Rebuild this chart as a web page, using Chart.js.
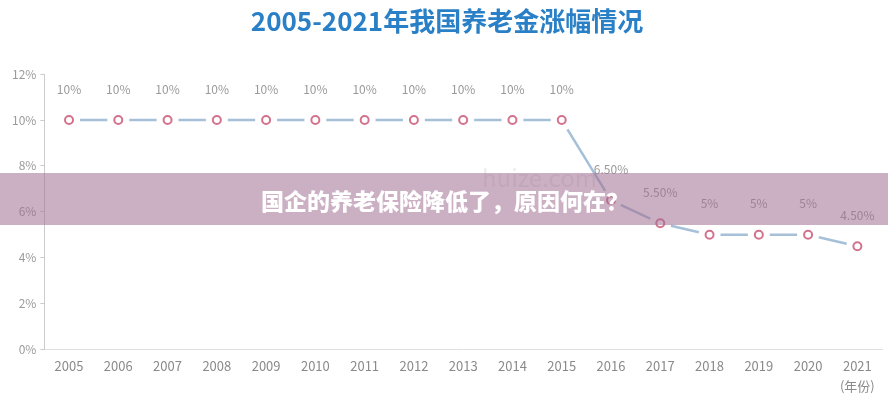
<!DOCTYPE html>
<html><head><meta charset="utf-8">
<script src="https://cdn.jsdelivr.net/npm/chart.js@4/dist/chart.umd.min.js"></script>
<style>html,body{margin:0;padding:0;background:#fff;}#wrap{width:888px;height:400px;position:relative;}</style>
</head><body><div id="wrap"><canvas id="c" width="888" height="400"></canvas></div>
<script>
const years = ["2005","2006","2007","2008","2009","2010","2011","2012","2013","2014","2015","2016","2017","2018","2019","2020","2021"];
const growth = [10,10,10,10,10,10,10,10,10,10,10,6.5,5.5,5,5,5,4.5];
const pointLabels = ["10%","10%","10%","10%","10%","10%","10%","10%","10%","10%","10%","6.50%","5.50%","5%","5%","5%","4.50%"];
const yTicks = [0,2,4,6,8,10,12];
const titleText = "2005-2021年我国养老金涨幅情况";
const bannerText = "国企的养老保险降低了，原因何在？";
const xUnit = "(年份)";
const watermark = "huize.com";

const FONT = "'Noto Sans CJK SC','Open Sans','Noto Sans',sans-serif";

const labelPlugin = {
  id: 'valueLabels',
  beforeDatasetsDraw(chart) {
    const ctx = chart.ctx;
    ctx.save();
    ctx.font = "24px " + FONT;
    ctx.fillStyle = "#ececec";
    ctx.textAlign = "left";
    ctx.textBaseline = "middle";
    ctx.fillText(watermark, 482, 178);
    ctx.restore();
  },
  afterDatasetDraw(chart, args) {
    if (args.index !== 0) return;
    const ctx = chart.ctx;
    ctx.save();
    ctx.fillStyle = "#ffffff";
    args.meta.data.forEach(pt => {
      ctx.beginPath();
      ctx.arc(pt.x, pt.y, 11, 0, Math.PI * 2);
      ctx.fill();
    });
    ctx.restore();
  },
  afterDatasetsDraw(chart) {
    const meta = chart.getDatasetMeta(1);
    const ctx = chart.ctx;
    ctx.save();
    ctx.font = "12px " + FONT;
    ctx.fillStyle = "#9a9a9a";
    ctx.textAlign = "center";
    ctx.textBaseline = "middle";
    meta.data.forEach((pt, i) => {
      ctx.fillText(pointLabels[i], pt.x, pt.y - 31);
    });
    const xs = chart.scales.x;
    const lastX = xs.getPixelForValue(years.length - 1);
    ctx.font = "13px " + FONT;
    ctx.fillStyle = "#8a8a8a";
    ctx.fillText(xUnit, lastX, chart.chartArea.bottom + 37);
    ctx.restore();
  }
};

const bannerPlugin = {
  id: 'banner',
  afterDraw(chart) {
    const ctx = chart.ctx;
    ctx.save();
    ctx.fillStyle = "rgba(160,110,145,0.55)";
    ctx.fillRect(0, 173, chart.width, 52);
    ctx.font = "900 23px " + FONT;
    ctx.fillStyle = "#ffffff";
    ctx.textAlign = "center";
    ctx.textBaseline = "middle";
    ctx.fillText(bannerText, 445, 201);
    ctx.restore();
  }
};

new Chart(document.getElementById('c'), {
  type: 'line',
  data: {
    labels: years,
    datasets: [
      { data: growth, borderColor: "#a5c0d8", borderWidth: 2.5, fill: false, tension: 0, pointRadius: 0, order: 2 },
      { data: growth, showLine: false, pointRadius: 4, pointBackgroundColor: "#ffffff", pointBorderColor: "#d3728c", pointBorderWidth: 2, order: 1 }
    ]
  },
  options: {
    responsive: false,
    animation: false,
    devicePixelRatio: 1,
    layout: { padding: { left: 8, right: 2, top: 0, bottom: 17 } },
    plugins: {
      legend: { display: false },
      tooltip: { enabled: false },
      title: {
        display: true, text: titleText, color: "#2a80c6",
        font: { size: 26, weight: 'bold', family: FONT },
        padding: { top: 6, bottom: 37 }
      }
    },
    scales: {
      x: {
        offset: true,
        grid: { display: false, drawTicks: false },
        border: { display: true, color: "#e0e0e0", width: 1 },
        ticks: { color: "#8a8a8a", font: { size: 13, family: FONT }, padding: 9, maxRotation: 0, autoSkip: false }
      },
      y: {
        min: 0, max: 12,
        afterBuildTicks(axis) { axis.ticks = yTicks.map(v => ({ value: v })); },
        grid: { display: true, drawOnChartArea: false, drawTicks: true, tickLength: 4, color: "#cccccc" },
        border: { display: true, color: "#cccccc", width: 1 },
        ticks: { color: "#9a9a9a", font: { size: 12, family: FONT }, padding: 4, callback: v => v + "%" }
      }
    }
  },
  plugins: [labelPlugin, bannerPlugin]
});
</script></body></html>
